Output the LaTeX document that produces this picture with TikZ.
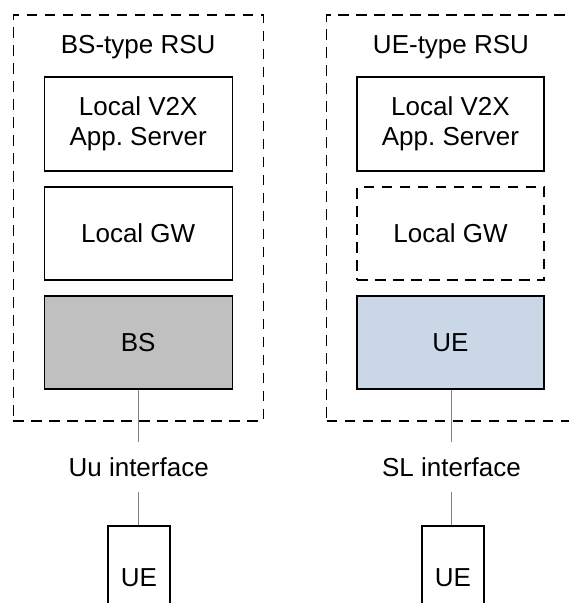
\documentclass[tikz,border=0pt]{standalone}
\usepackage{fontspec}
\setmainfont{Liberation Sans}
\frenchspacing
\definecolor{bsgray}{HTML}{C0C0C0}
\definecolor{ueblue}{HTML}{CAD7E6}
\definecolor{conngray}{HTML}{808080}
\begin{document}
\begin{tikzpicture}[x=1pt,y=-1pt,
  every node/.style={font=\fontsize{26}{30}\selectfont},
  container/.style={draw=black,line width=1.4pt,dash pattern=on 10.5pt off 7.5pt,minimum width=#1,minimum height=406pt,inner sep=0pt},
  box/.style={draw=black,line width=1.3pt,minimum width=#1,minimum height=93pt,inner sep=0pt,align=center},
  dbox/.style={box=#1,dash pattern=on 10.5pt off 7.5pt},
  uebox/.style={draw=black,line width=1.3pt,minimum width=62pt,minimum height=104pt,inner sep=0pt},
  lbl/.style={inner sep=0pt,minimum height=50pt},
  conn/.style={draw=conngray,line width=1pt}]
\clip (0,0) rectangle (569,603);
\fill[white] (0,0) rectangle (569,603);
% containers
\node[container=250pt] (rsu1) at (138.2,218) {};
\node[container=249pt] (rsu2) at (451,218) {};
\node (t1) at (138.2,47) {BS-type RSU};
\node (t2) at (451,47) {UE-type RSU};
% left boxes
\node[box=188pt,minimum height=94pt] (app1) at (138.2,124) {Local V2X\\App. Server};
\node[box=188pt] (gw1) at (138.2,233.5) {Local GW};
\node[box=188pt,fill=bsgray] (bs) at (138.2,342.5) {BS};
% right boxes
\node[box=187pt,minimum height=94pt] (app2) at (450.5,124) {Local V2X\\App. Server};
\node[dbox=187pt] (gw2) at (450.5,233.5) {Local GW};
\node[box=187pt,fill=ueblue] (ue) at (450.5,342.5) {UE};
% interfaces
\node[lbl] (uu) at (138.7,467) {Uu interface};
\node[lbl] (sl) at (451.5,467) {SL interface};
% lower UEs
\node[uebox] (ue1) at (139,578) {UE};
\node[uebox] (ue2) at (453,578) {UE};
% connectors
\draw[conn] (bs.south -| uu.center) -- (uu.north);
\draw[conn] (uu.south) -- (uu.south |- ue1.north);
\draw[conn] (ue.south -| sl.center) -- (sl.north);
\draw[conn] (sl.south) -- (sl.south |- ue2.north);
\end{tikzpicture}
\end{document}
